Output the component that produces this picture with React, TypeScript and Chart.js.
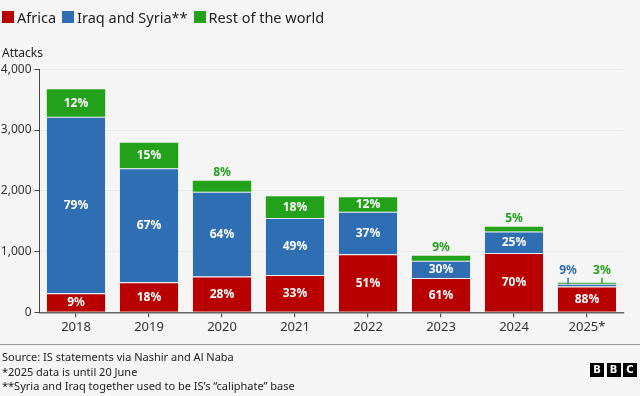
import React, { useEffect, useRef } from "react";
import { Chart, registerables } from "chart.js";

Chart.register(...registerables);

const years = ["2018", "2019", "2020", "2021", "2022", "2023", "2024", "2025*"];
const africa = [315, 495, 590, 615, 955, 565, 975, 425];
const iraqSyria = [2905, 1875, 1395, 937, 701, 285, 355, 44];
const restOfWorld = [450, 420, 180, 357, 237, 82, 78, 16];
const africaPct = [9, 18, 28, 33, 51, 61, 70, 88];
const iraqSyriaPct = [79, 67, 64, 49, 37, 30, 25, 9];
const restPct = [12, 15, 8, 18, 12, 9, 5, 3];
const yTicks = [0, 1000, 2000, 3000, 4000];

const RED = "#b80000";
const BLUE = "#2f6eb3";
const GREEN = "#23a11b";
const FONT = "'Noto Sans', sans-serif";

const pcts = [africaPct, iraqSyriaPct, restPct];
const colors = [RED, BLUE, GREEN];

const labelPlugin = {
  id: "segLabels",
  afterDatasetsDraw(chart: any) {
    const ctx = chart.ctx;
    const n = chart.data.labels.length;
    ctx.save();
    ctx.textAlign = "center";
    ctx.textBaseline = "middle";
    ctx.font = `bold 12px ${FONT}`;
    for (let j = 0; j < n; j++) {
      const segs: any[] = [];
      for (let i = 0; i < 3; i++) {
        const el = chart.getDatasetMeta(i).data[j];
        const p = el.getProps(["x", "y", "base", "width"], true);
        segs.push({ ...p, h: p.base - p.y });
      }
      const small = segs.map((s) => s.h < 14);
      const smallCount = small.filter(Boolean).length;
      const topY = Math.min(...segs.map((s) => s.y));
      segs.forEach((s, i) => {
        const text = pcts[i][j] + "%";
        if (!small[i]) {
          ctx.fillStyle = "#ffffff";
          ctx.fillText(text, s.x, (s.y + s.base) / 2 + 0.5);
        } else if (smallCount === 1) {
          ctx.fillStyle = colors[i];
          ctx.fillText(text, s.x, topY - 8);
        } else {
          const lx = s.x + (i === 1 ? -0.324 : 0.256) * s.width;
          ctx.strokeStyle = colors[i];
          ctx.lineWidth = 1.5;
          ctx.beginPath();
          ctx.moveTo(lx, s.y + 0.5);
          ctx.lineTo(lx, topY - 5);
          ctx.stroke();
          ctx.fillStyle = colors[i];
          ctx.fillText(text, lx, topY - 12);
        }
      });
    }
    ctx.restore();
  },
};

export default function App() {
  const canvasRef = useRef<HTMLCanvasElement | null>(null);

  useEffect(() => {
    if (!canvasRef.current) return;
    const sep = { top: 1, left: 0, right: 0, bottom: 0 };
    const chart = new Chart(canvasRef.current, {
      type: "bar",
      data: {
        labels: years,
        datasets: [
          { label: "Africa", data: africa, backgroundColor: RED, borderColor: "rgba(235,235,235,0.9)", borderWidth: sep, borderSkipped: false },
          { label: "Iraq and Syria**", data: iraqSyria, backgroundColor: BLUE, borderColor: "rgba(235,235,235,0.9)", borderWidth: sep, borderSkipped: false },
          { label: "Rest of the world", data: restOfWorld, backgroundColor: GREEN, borderWidth: 0 },
        ],
      },
      options: {
        responsive: false,
        animation: false,
        devicePixelRatio: 1,
        layout: { padding: { top: 69.3, left: 0, right: 16.5, bottom: 0 } },
        datasets: { bar: { barPercentage: 0.8, categoryPercentage: 1 } },
        plugins: { legend: { display: false }, tooltip: { enabled: false } },
        scales: {
          x: {
            stacked: true,
            afterFit: (s: any) => { s.height = 396 - 312.3; },
            grid: { offset: false, drawOnChartArea: false, tickLength: 5, tickColor: "#555", lineWidth: 1.2 },
            border: { color: "#666", width: 1.5 },
            ticks: { color: "#333", font: { family: FONT, size: 13 }, padding: 2 },
          },
          y: {
            stacked: true,
            min: 0,
            max: 4000,
            afterFit: (s: any) => { s.width = 39.5; },
            afterBuildTicks: (s: any) => { s.ticks = yTicks.map((v) => ({ value: v })); },
            grid: { color: "#e9e9e9", tickColor: "#444", tickLength: 5, lineWidth: 1 },
            border: { color: "#444", width: 1 },
            ticks: {
              color: "#333",
              font: { family: FONT, size: 12 },
              padding: 3,
              callback: (v: any) => Number(v).toLocaleString("en-US"),
            },
          },
        },
      },
      plugins: [labelPlugin],
    });
    return () => chart.destroy();
  }, []);

  const legendItems = [
    { label: "Africa", color: RED },
    { label: "Iraq and Syria**", color: BLUE },
    { label: "Rest of the world", color: GREEN },
  ];

  return (
    <div style={{ position: "fixed", left: 0, top: 0, width: 640, height: 396, background: "#f5f5f5", fontFamily: FONT, color: "#222", overflow: "hidden" }}>
      <canvas ref={canvasRef} width={640} height={396} style={{ position: "absolute", left: 0, top: 0, width: 640, height: 396 }} />
      <div style={{ position: "absolute", left: 2, top: 6, display: "flex", alignItems: "center", fontSize: 14.5, lineHeight: "22px", whiteSpace: "nowrap" }}>
        {legendItems.map((it) => (
          <div key={it.label} style={{ display: "flex", alignItems: "center", marginRight: 6 }}>
            <span style={{ display: "inline-block", width: 12, height: 12, background: it.color, marginRight: 3 }} />
            <span>{it.label}</span>
          </div>
        ))}
      </div>
      <div style={{ position: "absolute", left: 2, top: 45, fontSize: 12, lineHeight: "16px" }}>Attacks</div>
      <div style={{ position: "absolute", left: 0, top: 344, width: 640, height: 1, background: "#9a9a9a" }} />
      <div style={{ position: "absolute", left: 2, top: 350, fontSize: 11, lineHeight: "14.5px", color: "#222" }}>
        <div>Source: IS statements via Nashir and Al Naba</div>
        <div>*2025 data is until 20 June</div>
        <div>**Syria and Iraq together used to be IS’s “caliphate” base</div>
      </div>
      <div style={{ position: "absolute", left: 590, top: 363, display: "flex" }}>
        {["B", "B", "C"].map((c, i) => (
          <div key={i} style={{ width: 14, height: 14, background: "#000", color: "#fff", fontSize: 10, fontWeight: 700, lineHeight: "14px", textAlign: "center", marginLeft: i ? 2.5 : 0, fontFamily: "'DejaVu Sans', sans-serif" }}>{c}</div>
        ))}
      </div>
    </div>
  );
}
